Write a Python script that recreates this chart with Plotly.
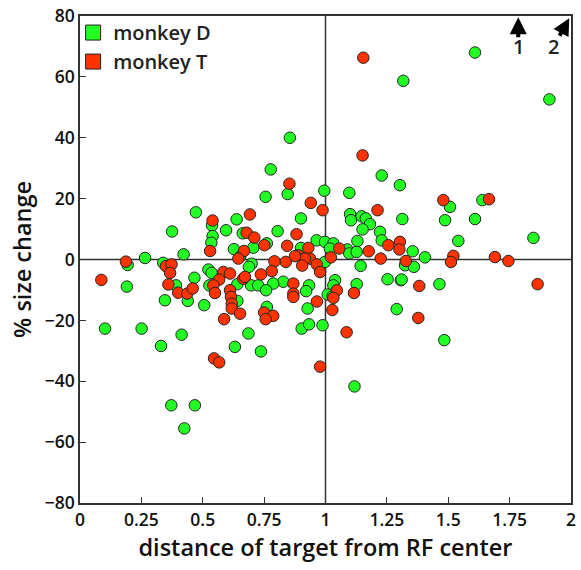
import plotly.graph_objects as go

# monkey D (green)
d_x = [0.855, 0.777, 0.846, 0.756, 0.995, 1.609, 1.317, 1.912, 1.229, 1.303,
       1.097, 1.639, 0.472, 0.538, 0.638, 0.595, 0.540, 0.535, 0.375, 0.422,
       0.265, 0.194, 0.191, 0.339, 0.391, 0.346, 0.627, 0.663, 0.699, 0.688,
       0.523, 0.536, 0.466, 0.641, 0.527, 0.697, 0.726, 0.439, 0.506, 0.641,
       0.102, 0.251, 0.414, 0.330, 0.631, 0.686, 0.372, 0.468, 0.425, 0.737,
       0.903, 0.933, 0.988, 0.927, 1.118, 1.290, 0.761, 0.828, 0.787, 0.758,
       0.933, 0.921, 1.039, 1.032, 1.009, 1.127, 1.253, 1.307, 0.805, 0.900,
       1.100, 1.104, 1.147, 1.164, 1.181, 1.151, 1.222, 1.229, 1.130, 1.313,
       0.761, 0.706, 0.900, 0.964, 0.998, 1.032, 1.018, 1.089, 1.097, 1.127,
       1.143, 1.355, 1.405, 1.324, 1.360, 0.998, 1.507, 1.487, 1.609, 1.541,
       1.847, 1.310, 1.464, 1.484, 0.652, 1.029]
d_y = [40.0, 29.6, 21.5, 20.6, 22.6, 68.0, 58.7, 52.6, 27.6, 24.4,
       21.9, 19.5, 15.5, 11.2, 13.2, 9.6, 7.7, 5.5, 9.2, 1.7,
       0.5, -1.8, -8.9, -1.1, -8.5, -13.4, 3.4, 8.6, -1.4, -2.4,
       -3.3, -4.4, -6.0, -8.1, -8.5, -8.5, -8.5, -13.6, -15.0, -13.6,
       -22.7, -22.7, -24.7, -28.4, -28.7, -24.3, -47.9, -47.9, -55.5, -30.2,
       -22.7, -21.3, -21.6, -16.1, -41.7, -16.3, -15.6, -7.3, -7.9, -10.1,
       -8.5, -10.4, -6.8, -8.5, -11.5, -8.1, -6.5, -6.8, 9.3, 13.5,
       14.9, 12.9, 14.2, 13.5, 11.6, 9.9, 9.1, 6.3, 6.1, 13.3,
       5.3, 3.9, 3.8, 6.3, 5.8, 5.3, 3.6, 3.3, 2.0, 2.5,
       -2.1, 2.7, 0.7, -1.9, -2.4, -0.8, 17.3, 12.9, 13.3, 6.1,
       7.1, -6.6, -8.1, -26.5, 0.9, -12.1]

# monkey T (red)
t_x = [0.853, 0.940, 1.154, 1.151, 1.480, 1.666, 0.540, 0.530, 0.187, 0.087,
       0.350, 0.373, 0.367, 0.360, 0.400, 0.437, 0.459, 0.668, 0.645, 0.679,
       0.692, 0.584, 0.611, 0.567, 0.543, 0.550, 0.665, 0.611, 0.615, 0.618,
       0.618, 0.652, 0.587, 0.546, 0.567, 0.965, 1.028, 1.086, 0.978, 0.750,
       0.787, 0.756, 0.869, 0.869, 0.869, 1.046, 1.032, 1.116, 0.988, 0.882,
       0.710, 0.751, 0.844, 0.930, 0.889, 1.022, 0.937, 0.964, 0.978, 0.916,
       0.876, 0.838, 0.792, 0.781, 0.737, 0.672, 1.212, 1.056, 1.176, 1.256,
       1.303, 1.301, 1.225, 1.327, 1.382, 1.378, 1.864, 1.521, 1.511, 1.690,
       1.745, 0.905]
t_y = [24.9, 18.6, 66.3, 34.2, 19.5, 19.8, 12.8, 2.8, -0.7, -6.7,
       -2.2, -1.6, -4.4, -8.2, -10.9, -11.2, -9.5, 2.8, 0.3, 8.8,
       14.8, -4.1, -4.6, -6.6, -8.5, -11.0, -6.3, -10.1, -12.3, -14.5,
       -16.1, -17.8, -19.6, -32.5, -33.8, -13.8, -16.6, -23.9, -35.2, -17.4,
       -18.5, -19.6, -7.9, -11.2, -12.3, -10.1, -12.6, -11.0, 16.2, 8.3,
       7.2, 4.7, 4.5, 3.8, 1.4, 0.7, 0.3, -1.6, -4.1, 0.3,
       1.1, -0.8, -0.6, -3.8, -4.9, -5.7, 16.2, 3.6, 2.7, 4.7,
       5.8, 3.3, 0.3, -0.5, -8.7, -19.2, -8.1, 1.2, -0.8, 0.8,
       -0.5, -2.0]

x_ticks = [0, 0.25, 0.5, 0.75, 1, 1.25, 1.5, 1.75, 2]
x_ticklabels = ["0", "0.25", "0.5", "0.75", "1", "1.25", "1.5", "1.75", "2"]
y_ticks = [-80, -60, -40, -20, 0, 20, 40, 60, 80]

GREEN = "#22FF22"
RED = "#FF3300"
EDGE = "#222222"
FONT = "Open Sans"

fig = go.Figure()
fig.add_trace(go.Scatter(x=d_x, y=d_y, mode="markers", showlegend=False,
                         marker=dict(size=11.5, color=GREEN, line=dict(color=EDGE, width=1))))
fig.add_trace(go.Scatter(x=t_x, y=t_y, mode="markers", showlegend=False,
                         marker=dict(size=11.5, color=RED, line=dict(color=EDGE, width=1))))
# legend entries (square symbols)
fig.add_trace(go.Scatter(x=[None], y=[None], mode="markers", name="monkey D",
                         marker=dict(symbol="square", size=15, color=GREEN, line=dict(color=EDGE, width=1))))
fig.add_trace(go.Scatter(x=[None], y=[None], mode="markers", name="monkey T",
                         marker=dict(symbol="square", size=15, color=RED, line=dict(color=EDGE, width=1))))

# reference lines
fig.add_shape(type="line", x0=1, x1=1, y0=-80, y1=80, xref="x", yref="y",
              line=dict(color="#333333", width=1.5), layer="below")
fig.add_shape(type="line", x0=0, x1=2, y0=0, y1=0, xref="x", yref="y",
              line=dict(color="#333333", width=1.5), layer="below")

# arrows for off-scale points
fig.add_annotation(x=1.785, y=79.6, ax=1.785, ay=72.5, xref="x", yref="y", axref="x", ayref="y",
                   showarrow=True, arrowhead=2, arrowsize=0.85, arrowwidth=4, arrowcolor="black", text="")
fig.add_annotation(x=1.993, y=79.3, ax=1.950, ay=73.0, xref="x", yref="y", axref="x", ayref="y",
                   showarrow=True, arrowhead=2, arrowsize=0.85, arrowwidth=4, arrowcolor="black", text="")
fig.add_annotation(x=1.785, y=70.0, xref="x", yref="y", text="1", showarrow=False,
                   font=dict(family=FONT, size=20, color="#222222", weight=600))
fig.add_annotation(x=1.93, y=70.0, xref="x", yref="y", text="2", showarrow=False,
                   font=dict(family=FONT, size=20, color="#222222", weight=600))

axis_common = dict(showline=True, mirror=True, linecolor="#333333", linewidth=1.5,
                   ticks="inside", ticklen=6, tickcolor="#333333", tickwidth=1.2,
                   showgrid=False, zeroline=False, automargin=False,
                   tickfont=dict(family=FONT, size=17.5, color="#111111", weight=600))

fig.update_layout(
    width=581, height=570,
    margin=dict(l=80, r=10, t=16, b=67),
    plot_bgcolor="white", paper_bgcolor="white",
    xaxis=dict(range=[0, 2], tickvals=x_ticks, ticktext=x_ticklabels,
               title=dict(text="distance of target from RF center", standoff=10,
                          font=dict(family=FONT, size=23.5, color="#111111", weight=600)),
               **axis_common),
    yaxis=dict(range=[-80, 80], tickvals=y_ticks,
               title=dict(text="% size change", standoff=6,
                          font=dict(family=FONT, size=23.5, color="#111111", weight=600)),
               **axis_common),
    legend=dict(x=-0.014, y=1.006, xanchor="left", yanchor="top", bgcolor="rgba(0,0,0,0)",
                font=dict(family=FONT, size=20, color="#222222", weight=600),
                itemsizing="trace", tracegroupgap=0, itemwidth=30),
)

fig.write_html("out.html")
